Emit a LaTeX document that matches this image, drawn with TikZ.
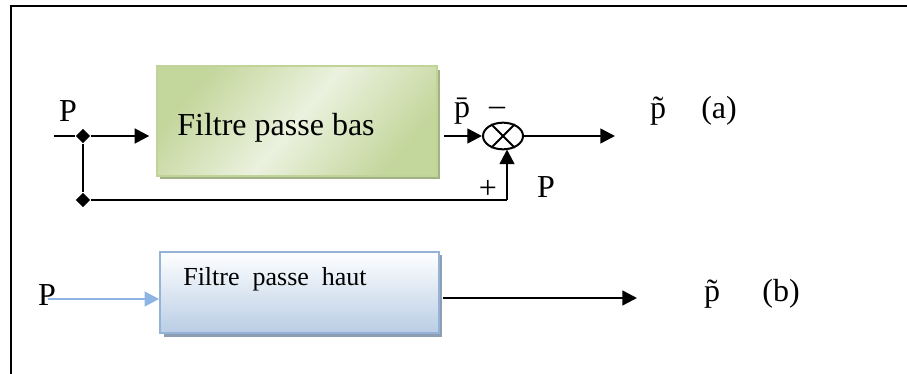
\documentclass[tikz,border=0pt]{standalone}
\usepackage{fontspec}
\setmainfont{Liberation Serif}
\usetikzlibrary{arrows.meta,shapes.geometric,shadows}
\definecolor{greenDark}{HTML}{C3D69B}
\definecolor{greenLight}{HTML}{EBF1DE}
\definecolor{greenEdge}{HTML}{C0D49A}
\definecolor{greenShadow}{HTML}{A3B184}
\definecolor{blueBot}{HTML}{B9CDE5}
\definecolor{blueEdge}{HTML}{95B3D7}
\definecolor{blueShadow}{HTML}{8D9DB2}
\definecolor{arrowBlue}{HTML}{8EB4E3}
\tikzset{
  wire/.style={line width=1.9pt, draw=black},
  tip/.style={-{Triangle[length=11pt,width=11pt]}},
  sig/.style={wire, tip},
  junction/.style={diamond, fill=black, inner sep=0pt, minimum size=11pt},
  lbl/.style={inner sep=0pt, font=\fontsize{24}{28}\selectfont},
  lowpass/.style={rectangle, draw=greenEdge, line width=1.5pt,
    minimum width=210pt, minimum height=82pt,
    top color=greenDark, bottom color=greenDark, middle color=greenLight,
    shading angle=50,
    drop shadow={shadow xshift=2.5pt, shadow yshift=-2.5pt, fill=greenShadow, opacity=1}},
  highpass/.style={rectangle, draw=blueEdge, line width=1.5pt,
    minimum width=209pt, minimum height=61pt,
    top color=white, bottom color=blueBot,
    drop shadow={shadow xshift=2.5pt, shadow yshift=-2.5pt, fill=blueShadow, opacity=1}},
}
\begin{document}
\begin{tikzpicture}[x=0.75pt, y=-0.75pt]
\useasboundingbox (0,0) rectangle (907,374);

% frame lines along the top and left
\draw[line width=1.6pt] (11,374) -- (11,6) -- (907,6);

% ---------- (a) low-pass branch ----------
\node[lowpass] (lpf) at (297,121) {};
\node[inner sep=0pt, font=\fontsize{24}{28}\selectfont] (lpftext) at (276,128) {Filtre passe bas};

\coordinate (ina) at (54,136);
\node[junction] (j1) at (83,136) {};
\node[junction] (j2) at (83,200) {};
\node[lbl] (pin) at (68,111) {P};

\node[ellipse, draw, line width=1.5pt, minimum width=30pt, minimum height=20pt, inner sep=0pt, fill=white] (sum) at (503,136) {};
\draw[line width=1.5pt] (sum.45) -- (sum.225) (sum.135) -- (sum.315);

\coordinate (outa) at (615,136);
\coordinate (fbcorner) at (507,200);

\draw[wire] (ina) -- (j1);
\draw[sig, shorten >=5pt] (j1) -- (lpf.west |- j1);
\draw[wire] (j1) -- (j2);
\draw[wire] (j2) -- (fbcorner);
\draw[sig] (fbcorner) -- (507,149.5);
\draw[sig, shorten <=4.5pt] (lpf.east |- sum) -- (sum.west);
\draw[sig] (sum.east) -- (outa);

\node[lbl] (pbar) at (462,111) {\={p}};
\node[lbl] (minus) at (497,111) {–};
\node[lbl] (plus) at (488,189) {+};
\node[lbl] (pfb) at (546,187) {P};
\node[lbl] (ptila) at (658,111) {\~{p}};
\node[lbl] (taga) at (719,111) {(a)};

% ---------- (b) high-pass branch ----------
\node[highpass] (hpf) at (299.5,292.5) {};
\node[inner sep=0pt, font=\fontsize{19.5}{23}\selectfont] (hpftext) at (275,279) {Filtre\ \ passe\ \ haut};

\coordinate (inb) at (48,299);
\coordinate (outb) at (637,298);
\draw[line width=1.9pt, draw=arrowBlue, tip] (inb) -- (hpf.west |- inb);
\node[lbl] (pinb) at (47,295) {P};
\draw[sig, shorten <=2pt] (hpf.east |- outb) -- (outb);
\node[lbl] (ptilb) at (712,294) {\~{p}};
\node[lbl] (tagb) at (781,294) {(b)};
\end{tikzpicture}
\end{document}
